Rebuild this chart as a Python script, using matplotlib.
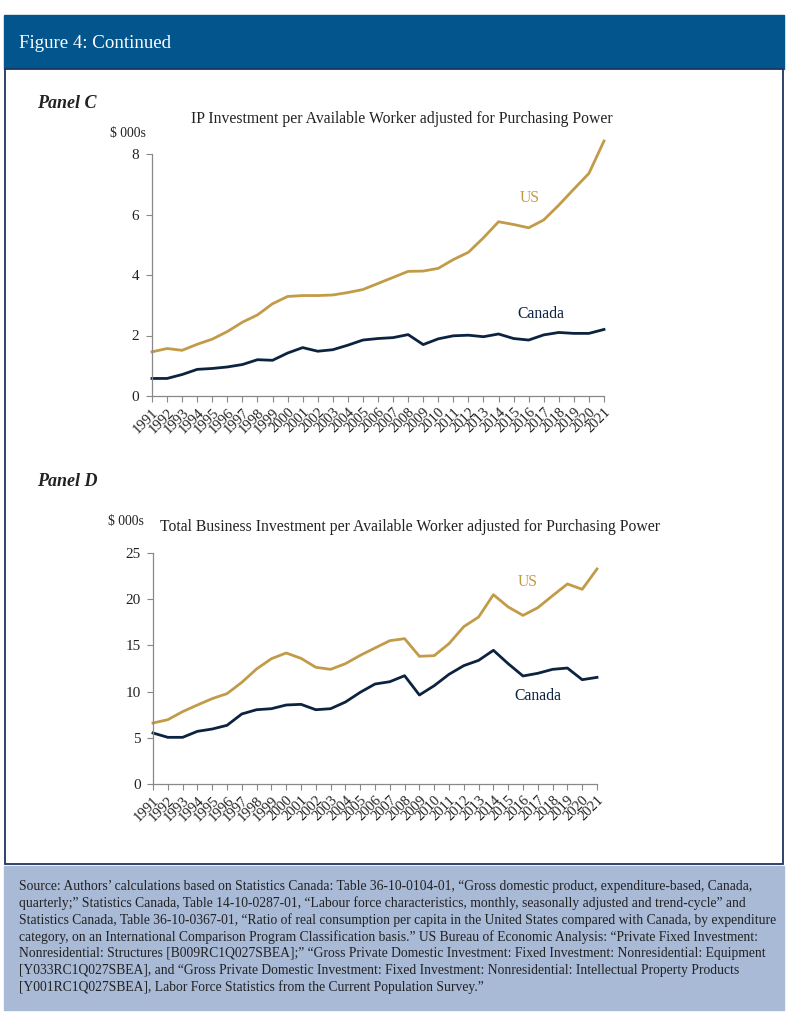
import numpy as np
import matplotlib
matplotlib.use('Agg')
import matplotlib.pyplot as plt
from matplotlib.patches import Rectangle

years = list(range(1991, 2022))

# Panel C: IP investment per available worker, $ 000s
us_ip = [1.46, 1.57, 1.51, 1.71, 1.88, 2.13, 2.44, 2.68, 3.05, 3.29,
         3.32, 3.32, 3.34, 3.42, 3.52, 3.72, 3.92, 4.12, 4.13, 4.22,
         4.51, 4.75, 5.23, 5.76, 5.67, 5.56, 5.82, 6.31, 6.84, 7.36, 8.43]
ca_ip = [0.58, 0.58, 0.71, 0.88, 0.91, 0.96, 1.04, 1.20, 1.18, 1.42,
         1.60, 1.48, 1.53, 1.68, 1.85, 1.90, 1.93, 2.03, 1.70, 1.89,
         1.99, 2.01, 1.96, 2.05, 1.90, 1.85, 2.02, 2.10, 2.07, 2.07, 2.20]

# Panel D: total business investment per available worker, $ 000s
us_tot = [6.60, 6.96, 7.83, 8.55, 9.24, 9.78, 11.0, 12.45, 13.56, 14.18,
          13.60, 12.63, 12.41, 13.02, 13.92, 14.72, 15.51, 15.73, 13.82, 13.89,
          15.19, 17.03, 18.07, 20.49, 19.16, 18.25, 19.08, 20.38, 21.65, 21.07, 23.27]
ca_tot = [5.52, 5.05, 5.05, 5.70, 5.95, 6.35, 7.58, 8.04, 8.15, 8.55,
          8.62, 8.04, 8.15, 8.87, 9.92, 10.82, 11.07, 11.72, 9.63, 10.64,
          11.87, 12.81, 13.38, 14.47, 13.02, 11.69, 11.98, 12.41, 12.55, 11.29, 11.54]

source_text = (
    "Source: Authors\u2019 calculations based on Statistics Canada: Table 36-10-0104-01, \u201cGross domestic product, expenditure-based, Canada,\n"
    "quarterly;\u201d Statistics Canada, Table 14-10-0287-01, \u201cLabour force characteristics, monthly, seasonally adjusted and trend-cycle\u201d and\n"
    "Statistics Canada, Table 36-10-0367-01, \u201cRatio of real consumption per capita in the United States compared with Canada, by expenditure\n"
    "category, on an International Comparison Program Classification basis.\u201d US Bureau of Economic Analysis: \u201cPrivate Fixed Investment:\n"
    "Nonresidential: Structures [B009RC1Q027SBEA];\u201d \u201cGross Private Domestic Investment: Fixed Investment: Nonresidential: Equipment\n"
    "[Y033RC1Q027SBEA], and \u201cGross Private Domestic Investment: Fixed Investment: Nonresidential: Intellectual Property Products\n"
    "[Y001RC1Q027SBEA], Labor Force Statistics from the Current Population Survey.\u201d"
)

US_COL = '#C29B48'
CA_COL = '#0C2340'
HEAD_COL = '#03568D'
FOOT_COL = '#A9BAD6'
TXT = '#222222'

plt.rcParams['font.family'] = ['Liberation Serif', 'DejaVu Serif']

W, H = 800, 1014
fig = plt.figure(figsize=(W / 100, H / 100), dpi=100)

def px(x, y):
    # pixel coords (top-left origin) -> figure fraction
    return x / W, 1 - y / H

# frame: header, white box, footer
bg = fig.add_axes([0, 0, 1, 1])
bg.set_xlim(0, W)
bg.set_ylim(H, 0)
bg.axis('off')
bg.add_patch(Rectangle((4, 15), 780, 54, color=HEAD_COL, zorder=1))
bg.add_patch(Rectangle((5, 69), 778, 795, facecolor='white', edgecolor='#1F3560', lw=1.3, zorder=1))
bg.add_patch(Rectangle((4, 866), 780, 144, color=FOOT_COL, zorder=1))
bg.text(19, 43, 'Figure 4: Continued', color='white', fontsize=13.6, va='center', ha='left')
bg.text(19, 880, source_text, fontsize=9.8, va='top', ha='left', color=TXT, linespacing=1.31)

bg.text(37, 103, 'Panel C', fontsize=13, style='italic', weight='bold', va='center', color=TXT)
bg.text(37, 482, 'Panel D', fontsize=13, style='italic', weight='bold', va='center', color=TXT)
bg.text(110, 133, '$ 000s', fontsize=9.8, va='center', color=TXT)
bg.text(108, 521, '$ 000s', fontsize=9.8, va='center', color=TXT)
bg.text(402, 119, 'IP Investment per Available Worker adjusted for Purchasing Power',
        fontsize=11.3, ha='center', va='center', color=TXT)
bg.text(410, 527, 'Total Business Investment per Available Worker adjusted for Purchasing Power',
        fontsize=11.3, ha='center', va='center', color=TXT)

def panel(rect, us, ca, ymax, ystep, us_lab, ca_lab):
    l, t, r, b = rect
    x0, y0 = px(l, b)
    ax = fig.add_axes([x0, y0, (r - l) / W, (b - t) / H])
    ax.plot(years, us, color=US_COL, lw=2, clip_on=False)
    ax.plot(years, ca, color=CA_COL, lw=2, clip_on=False)
    ax.set_xlim(1991, 2021)
    ax.set_ylim(0, ymax)
    ax.set_yticks(np.arange(0, ymax + 0.1, ystep))
    ax.set_xticks(years)
    ax.set_xticklabels([str(y) for y in years], rotation=45, ha='right', va='top',
                       rotation_mode='anchor', fontsize=10.5, color=TXT)
    ax.tick_params(axis='y', labelsize=11, colors=TXT, length=4, color='#888888', pad=5)
    ax.tick_params(axis='x', length=4, color='#888888', pad=3)
    for s in ['top', 'right']:
        ax.spines[s].set_visible(False)
    for s in ['left', 'bottom']:
        ax.spines[s].set_color('#888888')
        ax.spines[s].set_linewidth(0.9)
    ax.patch.set_alpha(0)
    ax.text(us_lab[0], us_lab[1], 'US', color=US_COL, fontsize=11.3, ha='center', va='center')
    ax.text(ca_lab[0], ca_lab[1], 'Canada', color=CA_COL, fontsize=11.3, ha='center', va='center')
    return ax

panel((152, 154, 604, 396), us_ip, ca_ip, 8, 2, (2016.1, 6.55), (2016.8, 2.71))
panel((153, 553, 597, 784), us_tot, ca_tot, 25, 5, (2016.3, 21.9), (2017.0, 9.5))

fig.savefig('out.png', dpi=100)
